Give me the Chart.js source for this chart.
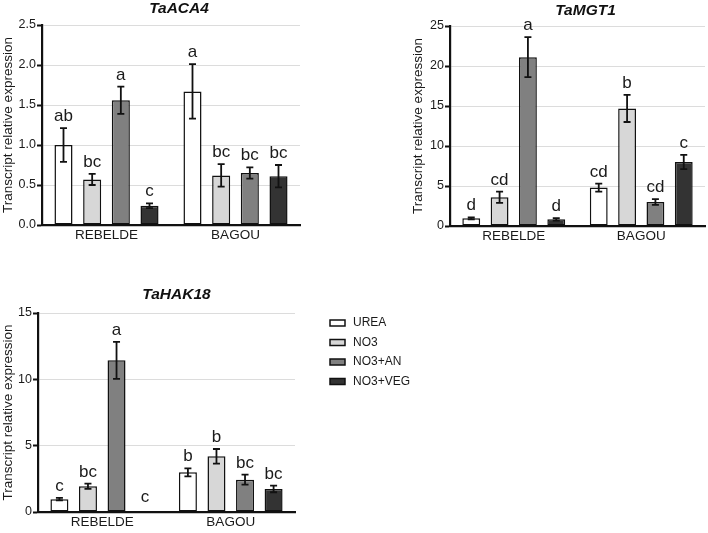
<!DOCTYPE html>
<html><head><meta charset="utf-8">
<script src="https://cdn.jsdelivr.net/npm/chart.js@4.4.0/dist/chart.umd.min.js"></script>
<style>
html,body{margin:0;padding:0;background:#fff;width:708px;height:533px;overflow:hidden}
canvas{position:absolute}
</style></head><body>
<canvas id="c1" width="305" height="245" style="left:0;top:0"></canvas>
<canvas id="c2" width="298" height="246" style="left:410px;top:0"></canvas>
<canvas id="c3" width="480" height="250" style="left:0;top:283px"></canvas>
<script>
// ---- data ----
const groups = ['REBELDE', 'BAGOU'];
const treatments = ['UREA', 'NO3', 'NO3+AN', 'NO3+VEG'];

const aca4Rebelde = [1.00, 0.57, 1.56, 0.24];
const aca4Bagou   = [1.67, 0.62, 0.65, 0.61];
const aca4ErrRebelde = [0.21, 0.07, 0.17, 0.03];
const aca4ErrBagou   = [0.34, 0.14, 0.07, 0.14];
const aca4LetRebelde = ['ab', 'bc', 'a', 'c'];
const aca4LetBagou   = ['a', 'bc', 'bc', 'bc'];
const aca4Ticks = [0, 0.5, 1.0, 1.5, 2.0, 2.5];

const mgt1Rebelde = [0.96, 3.6, 21.1, 0.83];
const mgt1Bagou   = [4.8, 14.7, 3.0, 8.0];
const mgt1ErrRebelde = [0.12, 0.7, 2.5, 0.15];
const mgt1ErrBagou   = [0.5, 1.7, 0.35, 0.9];
const mgt1LetRebelde = ['d', 'cd', 'a', 'd'];
const mgt1LetBagou   = ['cd', 'b', 'cd', 'c'];
const mgt1Ticks = [0, 5, 10, 15, 20, 25];

const hak18Rebelde = [0.97, 1.94, 11.43, 0];
const hak18Bagou   = [2.99, 4.2, 2.44, 1.74];
const hak18ErrRebelde = [0.1, 0.2, 1.4, 0];
const hak18ErrBagou   = [0.3, 0.55, 0.37, 0.25];
const hak18LetRebelde = ['c', 'bc', 'a', 'c'];
const hak18LetBagou   = ['b', 'b', 'bc', 'bc'];
const hak18Ticks = [0, 5, 10, 15];

// ---- styles ----
const FONT = '"Liberation Sans", Arial, Helvetica, sans-serif';
const fills = ['#ffffff', '#d7d7d7', '#808080', '#333333'];
const INK = '#1a1a1a';

const errLetters = {
  id: 'errLetters',
  afterDatasetsDraw(chart) {
    const ctx = chart.ctx, ys = chart.scales.y;
    chart.data.datasets.forEach((ds, di) => {
      const meta = chart.getDatasetMeta(di);
      meta.data.forEach((bar, i) => {
        const v = ds.data[i], e = ds.errors[i], x = bar.x;
        const yt = ys.getPixelForValue(v + e), yb = ys.getPixelForValue(Math.max(v - e, 0));
        ctx.save();
        if (e > 0) {
          ctx.strokeStyle = '#111'; ctx.lineWidth = 1.8;
          ctx.beginPath();
          ctx.moveTo(x, yt); ctx.lineTo(x, yb);
          ctx.moveTo(x - 3.5, yt); ctx.lineTo(x + 3.5, yt);
          ctx.moveTo(x - 3.5, yb); ctx.lineTo(x + 3.5, yb);
          ctx.stroke();
        }
        ctx.fillStyle = INK;
        ctx.font = '17px ' + FONT;
        ctx.textAlign = 'center'; ctx.textBaseline = 'alphabetic';
        ctx.fillText(ds.letters[i], x, yt - (e > 0 ? 7 : 10));
        ctx.restore();
      });
    });
  }
};

const titlePlug = {
  id: 'panelTitle',
  afterDraw(chart, args, opts) {
    const ctx = chart.ctx, a = chart.chartArea;
    ctx.save();
    ctx.fillStyle = '#111';
    ctx.font = 'italic bold 15.5px ' + FONT;
    ctx.textAlign = 'center'; ctx.textBaseline = 'alphabetic';
    ctx.fillText(opts.text, (a.left + a.right) / 2 + opts.dx, opts.baseline);
    ctx.restore();
  }
};

const legendPlug = {
  id: 'sideLegend',
  afterDraw(chart, args, opts) {
    if (!opts.show) return;
    const ctx = chart.ctx;
    ctx.save();
    chart.data.datasets.forEach((ds, i) => {
      const y = opts.y + i * opts.gap;
      ctx.fillStyle = ds.backgroundColor;
      ctx.fillRect(opts.x, y - 3, 15, 6);
      ctx.strokeStyle = '#111'; ctx.lineWidth = 1.5;
      ctx.strokeRect(opts.x, y - 3, 15, 6);
      ctx.fillStyle = INK;
      ctx.font = '12px ' + FONT;
      ctx.textAlign = 'left'; ctx.textBaseline = 'middle';
      ctx.fillText(ds.label, opts.x + 23, y);
    });
    ctx.restore();
  }
};

function makeChart(id, reb, bag, errR, errB, letR, letB, ticks, cfg) {
  const datasets = treatments.map((t, i) => ({
    label: t,
    data: [reb[i], bag[i]],
    errors: [errR[i], errB[i]],
    letters: [letR[i], letB[i]],
    backgroundColor: fills[i],
    borderColor: '#111',
    borderWidth: (c) => (c.raw === 0 ? 0 : 1.5),
    borderSkipped: false,
    barPercentage: 0.63,
    categoryPercentage: 0.889
  }));
  return new Chart(document.getElementById(id), {
    type: 'bar',
    data: { labels: groups, datasets },
    options: {
      responsive: false,
      animation: false,
      layout: { padding: cfg.pad },
      plugins: {
        legend: { display: false },
        tooltip: { enabled: false },
        panelTitle: { text: cfg.title, dx: cfg.dx, baseline: cfg.baseline },
        sideLegend: cfg.legend || { show: false }
      },
      scales: {
        x: {
          grid: { display: false, drawTicks: false, tickLength: 0 },
          border: { display: true, color: '#111', width: 2.2 },
          ticks: { color: INK, font: { size: 13.5, family: FONT }, padding: 2 },
          afterFit: (s) => { s.height = 18; }
        },
        y: {
          min: 0, max: ticks[ticks.length - 1],
          afterBuildTicks: (s) => { s.ticks = ticks.map(v => ({ value: v })); },
          grid: { color: '#dcdcdc', lineWidth: 1, tickColor: '#111', tickLength: 5, tickWidth: 2 },
          border: { display: true, color: '#111', width: 2.2 },
          ticks: {
            color: INK, font: { size: 12.5, family: FONT }, padding: 1,
            callback: (v) => cfg.decimals ? Number(v).toFixed(1) : String(v)
          },
          title: {
            display: true, text: 'Transcript relative expression',
            color: INK, font: { size: 13.5, family: FONT }, padding: 0
          },
          afterFit: (s) => { s.width = cfg.yw; }
        }
      }
    },
    plugins: [errLetters, titlePlug, legendPlug]
  });
}

makeChart('c1', aca4Rebelde, aca4Bagou, aca4ErrRebelde, aca4ErrBagou, aca4LetRebelde, aca4LetBagou, aca4Ticks,
  { pad: { top: 25, right: 5, bottom: 2, left: 0 }, yw: 42, decimals: true, title: 'TaACA4', dx: 8, baseline: 13 });
makeChart('c2', mgt1Rebelde, mgt1Bagou, mgt1ErrRebelde, mgt1ErrBagou, mgt1LetRebelde, mgt1LetBagou, mgt1Ticks,
  { pad: { top: 26, right: 3, bottom: 2, left: 0 }, yw: 40, decimals: false, title: 'TaMGT1', dx: 8, baseline: 14.5 });
makeChart('c3', hak18Rebelde, hak18Bagou, hak18ErrRebelde, hak18ErrBagou, hak18LetRebelde, hak18LetBagou, hak18Ticks,
  { pad: { top: 30, right: 185, bottom: 3, left: 0 }, yw: 38, decimals: false, title: 'TaHAK18', dx: 10, baseline: 16,
    legend: { show: true, x: 330, y: 40, gap: 19.5 } });
</script>
</body></html>
